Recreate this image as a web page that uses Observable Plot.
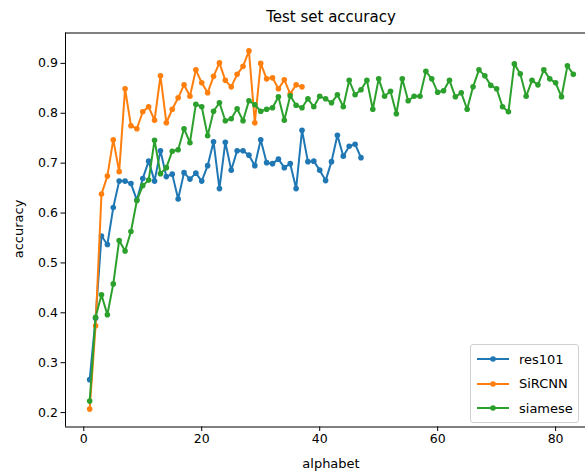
<!DOCTYPE html>
<html>
<head>
<meta charset="utf-8">
<script src="https://cdn.jsdelivr.net/npm/d3@7"></script>
<script src="https://cdn.jsdelivr.net/npm/@observablehq/plot@0.6"></script>
<style>
  html, body { margin: 0; padding: 0; background: #fff; }
  #wrap { position: relative; width: 585px; height: 475px; font-family: "DejaVu Sans", sans-serif; color: #000; }
  .ov { position: absolute; white-space: nowrap; }
  #title { left: 331px; top: 17px; transform: translate(-50%, -50%); font-size: 15px; }
  #xlabel { left: 331px; top: 463px; transform: translate(-50%, -50%); font-size: 13px; }
  #ylabel { left: 18px; top: 229px; transform: translate(-50%, -50%) rotate(-90deg); font-size: 13px; }
  #legend { left: 470px; top: 344px; width: 107px; height: 77px; border: 1px solid #d0d0d0; border-radius: 3px; background: rgba(255,255,255,0.8); font-size: 13px; }
  .lrow { position: absolute; left: 0; height: 20px; display: flex; align-items: center; }
  .lrow svg { margin-left: 6px; margin-right: 10px; }
</style>
</head>
<body>
<div id="wrap">
  <div id="chart"></div>
  <div class="ov" id="title"></div>
  <div class="ov" id="xlabel"></div>
  <div class="ov" id="ylabel"></div>
  <div class="ov" id="legend"></div>
</div>
<script>
// ---- data ----
const titleText = "Test set accuracy";
const xLabel = "alphabet";
const yLabel = "accuracy";
const seriesNames = ["res101", "SiRCNN", "siamese"];
const seriesColors = ["#1f77b4", "#ff7f0e", "#2ca02c"];
const xTicks = [0, 20, 40, 60, 80];
const yTicks = [0.2, 0.3, 0.4, 0.5, 0.6, 0.7, 0.8, 0.9];

const res101 = [
  0.266, 0.389, 0.554, 0.537, 0.611, 0.664, 0.664, 0.659, 0.626, 0.669,
  0.704, 0.664, 0.725, 0.673, 0.678, 0.628, 0.681, 0.668, 0.680, 0.664,
  0.695, 0.743, 0.649, 0.742, 0.686, 0.725, 0.725, 0.716, 0.695, 0.747,
  0.701, 0.699, 0.708, 0.691, 0.699, 0.649, 0.766, 0.703, 0.704, 0.686,
  0.665, 0.703, 0.756, 0.714, 0.734, 0.738, 0.711
];
const sircnn = [
  0.207, 0.374, 0.638, 0.674, 0.747, 0.683, 0.849, 0.775, 0.769, 0.803,
  0.813, 0.786, 0.875, 0.781, 0.808, 0.831, 0.857, 0.834, 0.887, 0.861,
  0.841, 0.874, 0.901, 0.866, 0.853, 0.878, 0.894, 0.925, 0.781, 0.900,
  0.869, 0.871, 0.849, 0.867, 0.839, 0.857, 0.853
];
const siamese = [
  0.223, 0.391, 0.436, 0.396, 0.458, 0.545, 0.524, 0.563, 0.625, 0.655,
  0.666, 0.746, 0.679, 0.691, 0.724, 0.727, 0.769, 0.741, 0.818, 0.813,
  0.755, 0.804, 0.821, 0.785, 0.789, 0.809, 0.785, 0.825, 0.817, 0.804,
  0.808, 0.811, 0.833, 0.786, 0.835, 0.816, 0.811, 0.829, 0.813, 0.834,
  0.829, 0.821, 0.837, 0.813, 0.866, 0.837, 0.847, 0.866, 0.808, 0.869,
  0.834, 0.844, 0.799, 0.869, 0.825, 0.834, 0.834, 0.884, 0.869, 0.842,
  0.845, 0.866, 0.833, 0.841, 0.808, 0.853, 0.887, 0.875, 0.856, 0.849,
  0.813, 0.803, 0.899, 0.879, 0.834, 0.866, 0.857, 0.887, 0.869, 0.861,
  0.833, 0.895, 0.878
];

// ---- build table ----
const allSeries = [res101, sircnn, siamese];
const rows = allSeries.flatMap((vals, s) =>
  vals.map((v, i) => ({ series: seriesNames[s], alphabet: i + 1, accuracy: v }))
);

const xr = d3.extent(rows, d => d.alphabet);
const yr = d3.extent(rows, d => d.accuracy);
const xPad = (xr[1] - xr[0]) * 0.05, yPad = (yr[1] - yr[0]) * 0.05;
const xLo = xr[0] - xPad, xHi = xr[1] + xPad;
const yLo = yr[0] - yPad, yHi = yr[1] + yPad;

// axes extend past the right edge of the picture (cropped), as in the reference
const W = 585, H = 475, mL = 65, mT = 32.5, mB = 48.5;
const plotPx = W - mL;
const axesPx = 532;
const xHiVisible = xLo + (xHi - xLo) * plotPx / axesPx;

const chart = Plot.plot({
  width: W,
  height: H,
  marginTop: mT,
  marginBottom: mB,
  marginLeft: mL,
  marginRight: 0,
  style: { fontFamily: "DejaVu Sans, sans-serif", fontSize: "12.5px", color: "#000", background: "transparent", overflow: "visible" },
  x: { domain: [xLo, xHiVisible], ticks: xTicks, tickFormat: d3.format("d"), tickSize: 4.5, tickPadding: 3, label: null },
  y: { domain: [yLo, yHi], ticks: yTicks, tickFormat: d3.format(".1f"), tickSize: 4.5, tickPadding: 3, label: null },
  color: { domain: seriesNames, range: seriesColors },
  marks: [
    Plot.ruleX([xLo], { stroke: "#000", strokeWidth: 1 }),
    Plot.ruleY([yLo, yHi], { stroke: "#000", strokeWidth: 1 }),
    ...seriesNames.flatMap(name => {
      const sub = rows.filter(d => d.series === name);
      return [
        Plot.line(sub, { x: "alphabet", y: "accuracy", stroke: "series", strokeWidth: 2 }),
        Plot.dot(sub, { x: "alphabet", y: "accuracy", fill: "series", r: 2.8 })
      ];
    })
  ]
});
document.getElementById("chart").appendChild(chart);

document.getElementById("title").textContent = titleText;
document.getElementById("xlabel").textContent = xLabel;
document.getElementById("ylabel").textContent = yLabel;

const legend = document.getElementById("legend");
seriesNames.forEach((name, i) => {
  const row = document.createElement("div");
  row.className = "lrow";
  row.style.top = (4 + i * 24.5) + "px";
  row.innerHTML = `<svg width="32" height="10"><line x1="0" y1="5" x2="32" y2="5" stroke="${seriesColors[i]}" stroke-width="2"/><circle cx="16" cy="5" r="2.8" fill="${seriesColors[i]}"/></svg><span>${name}</span>`;
  legend.appendChild(row);
});
</script>
</body>
</html>
